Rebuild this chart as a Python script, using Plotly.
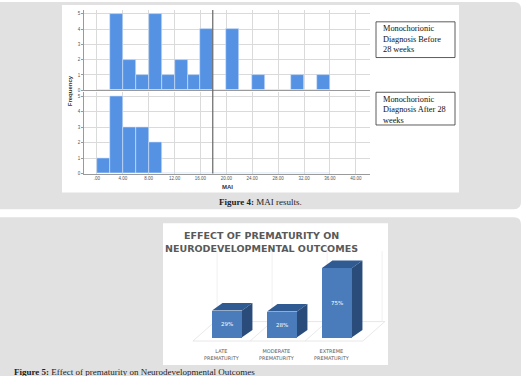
import plotly.graph_objects as go

W, H = 526, 376

def fx(p):
    return p / W

def fy(p):
    return 1 - p / H

# ---------------- data: Figure 4 (MAI histogram) ----------------
MAI_BIN_START = [0, 2, 4, 6, 8, 10, 12, 14, 16, 18, 20, 22, 24, 26, 28, 30, 32, 34]
COUNT_BEFORE_28 = [0, 5, 2, 1, 5, 1, 2, 1, 4, 0, 4, 0, 1, 0, 0, 1, 0, 1]
COUNT_AFTER_28 = [1, 5, 3, 3, 2, 0, 0, 0, 0, 0, 0, 0, 0, 0, 0, 0, 0, 0]
BIN_WIDTH = 2
MEAN_MAI = 17.9
X_TICK_VALUES = [0, 4, 8, 12, 16, 20, 24, 28, 32, 36, 40]
X_TICK_LABELS = [".00", "4.00", "8.00", "12.00", "16.00", "20.00", "24.00",
                 "28.00", "32.00", "36.00", "40.00"]
Y_TICK_VALUES = [0, 1, 2, 3, 4, 5]
PANEL_LABELS = [["Monochorionic", "Diagnosis Before", "28 weeks"],
                ["Monochorionic", "Diagnosis After 28", "weeks"]]

# ---------------- data: Figure 5 (prematurity) ----------------
PREM_CATEGORIES = ["LATE<br>PREMATURITY", "MODERATE<br>PREMATURITY", "EXTREME<br>PREMATURITY"]
PREM_VALUES = [29, 28, 75]
PREM_LABELS = ["29%", "28%", "75%"]

BLUE = "#5592e4"
GRID = "#dadada"
PANEL_GRAY = "#e1e1e1"

fig = go.Figure()

# histogram bars
fig.add_trace(go.Bar(x=MAI_BIN_START, y=COUNT_BEFORE_28, width=BIN_WIDTH, offset=0,
                     xaxis="x", yaxis="y",
                     marker=dict(color=BLUE, line=dict(color="#d6e4f8", width=0.6)),
                     showlegend=False, hoverinfo="skip"))
fig.add_trace(go.Bar(x=MAI_BIN_START, y=COUNT_AFTER_28, width=BIN_WIDTH, offset=0,
                     xaxis="x2", yaxis="y2",
                     marker=dict(color=BLUE, line=dict(color="#d6e4f8", width=0.6)),
                     showlegend=False, hoverinfo="skip"))

# prematurity bars (front faces)
BAR_W = 0.545
fig.add_trace(go.Bar(x=list(range(len(PREM_VALUES))), y=PREM_VALUES, width=BAR_W,
                     xaxis="x3", yaxis="y3", text=PREM_LABELS,
                     textposition="inside", insidetextanchor="middle", textangle=0,
                     textfont=dict(family="DejaVu Sans", size=5.5, color="white"),
                     marker=dict(color="#4a7cbb", line=dict(width=0)),
                     showlegend=False, hoverinfo="skip", cliponaxis=False))

shapes = []

def rounded(x0, y0, x1, y1, r):
    return (f"M {fx(x0)},{fy(y0)} L {fx(x1 - r)},{fy(y0)} "
            f"Q {fx(x1)},{fy(y0)} {fx(x1)},{fy(y0 + r)} "
            f"L {fx(x1)},{fy(y1 - r)} Q {fx(x1)},{fy(y1)} {fx(x1 - r)},{fy(y1)} "
            f"L {fx(x0)},{fy(y1)} Z")

# page panels
shapes.append(dict(type="path", xref="paper", yref="paper", path=rounded(-10, 2, 521, 211, 7),
                   fillcolor=PANEL_GRAY, line=dict(width=0), layer="below"))
shapes.append(dict(type="path", xref="paper", yref="paper", path=rounded(-10, 219, 521, 400, 7),
                   fillcolor=PANEL_GRAY, line=dict(width=0), layer="below"))
# white image areas
shapes.append(dict(type="rect", xref="paper", yref="paper", x0=fx(62), x1=fx(459), y0=fy(194), y1=fy(5),
                   fillcolor="white", line=dict(width=0), layer="below"))
shapes.append(dict(type="rect", xref="paper", yref="paper", x0=fx(163), x1=fx(388), y0=fy(368), y1=fy(225),
                   fillcolor="white", line=dict(width=0), layer="below"))

# mean reference line
shapes.append(dict(type="line", xref="x", yref="paper", x0=MEAN_MAI, x1=MEAN_MAI,
                   y0=fy(175), y1=fy(10), line=dict(color="#666666", width=1.2)))

# legend boxes
for (y0, y1) in [(22, 58), (93, 126)]:
    shapes.append(dict(type="rect", xref="paper", yref="paper", x0=fx(376), x1=fx(455),
                       y0=fy(y1), y1=fy(y0), fillcolor="white",
                       line=dict(color="#333333", width=0.8)))

# 3D floor and wall lines for Figure 5
FLOOR_LINE = dict(color="#e2e2e2", width=0.8)
fd_x, f_front, f_back = 0.4, -4, 17
fl, fr = -0.62, 2.47
shapes.append(dict(type="path", xref="x3", yref="y3", layer="below",
                   path=f"M {fl},{f_front} L {fr},{f_front} L {fr + fd_x},{f_back} L {fl + fd_x},{f_back} Z",
                   line=FLOOR_LINE, fillcolor="rgba(0,0,0,0)"))
for i in range(len(PREM_VALUES) - 1):
    sx = i + 0.42
    shapes.append(dict(type="line", xref="x3", yref="y3", layer="below",
                       x0=sx, y0=f_front, x1=sx + fd_x, y1=f_back, line=FLOOR_LINE))
for i in range(len(PREM_VALUES) + 1):
    wx = i - 0.18
    shapes.append(dict(type="line", xref="x3", yref="y3", layer="below",
                       x0=wx, y0=f_back, x1=wx, y1=93, line=dict(color="#ececec", width=0.8)))

# 3D faces computed from values
dx, dy = 0.19, 8
for i, v in enumerate(PREM_VALUES):
    x0, x1 = i - BAR_W / 2, i + BAR_W / 2
    shapes.append(dict(type="path", xref="x3", yref="y3",
                       path=f"M {x0},{v} L {x1},{v} L {x1 + dx},{v + dy} L {x0 + dx},{v + dy} Z",
                       fillcolor="#2f5b92", line=dict(width=0)))
    shapes.append(dict(type="path", xref="x3", yref="y3",
                       path=f"M {x1},0 L {x1 + dx},{dy} L {x1 + dx},{v + dy} L {x1},{v} Z",
                       fillcolor="#294c7b", line=dict(width=0)))

annotations = []

def ann(**kw):
    kw.setdefault("showarrow", False)
    kw.setdefault("xanchor", "center")
    kw.setdefault("yanchor", "middle")
    annotations.append(kw)

# legend box texts, one annotation per line
for lines, ytop in zip(PANEL_LABELS, [29, 100]):
    for k, line in enumerate(lines):
        ann(xref="paper", yref="paper", x=fx(381), y=fy(ytop + 10.5 * k), text=line, xanchor="left",
            font=dict(family="Liberation Serif", size=8.3, color="#111111"))
# axis titles
ann(xref="paper", yref="paper", x=fx(227), y=fy(189), text="<b>MAI</b>",
    font=dict(family="Liberation Sans", size=6, color="#333333"))
ann(xref="paper", yref="paper", x=fx(70), y=fy(92), text="<b>Frequency</b>", textangle=-90,
    font=dict(family="Liberation Sans", size=6, color="#333333"))
# captions
ann(xref="paper", yref="paper", x=fx(260), y=fy(204), text="<b>Figure 4:</b> MAI results.",
    font=dict(family="Liberation Serif", size=9, color="#222222"))
ann(xref="paper", yref="paper", x=fx(12), y=fy(368), xanchor="left", yanchor="top",
    text="<b>Figure 5:</b> Effect of prematurity on Neurodevelopmental Outcomes",
    font=dict(family="Liberation Serif", size=9, color="#222222"))
# Figure 5 title
for text, yc in [("EFFECT OF PREMATURITY ON", 237.5), ("NEURODEVELOPMENTAL OUTCOMES", 251)]:
    ann(xref="paper", yref="paper", x=fx(261), y=fy(yc), text=f"<b>{text}</b>",
        font=dict(family="DejaVu Sans", size=9.5, color="#595959"))
# Figure 5 category labels
for i, c in enumerate(PREM_CATEGORIES):
    ann(xref="x3", yref="paper", x=i - 0.09, y=fy(357), text=c,
        font=dict(family="DejaVu Sans", size=5, color="#595959"))

tickfont = dict(family="Liberation Sans", size=4.5, color="#555555")
common_x = dict(range=[-2, 42.2], tickvals=X_TICK_VALUES, showgrid=True, gridcolor=GRID,
                gridwidth=0.7, zeroline=False, showline=True, linecolor="#9a9a9a", linewidth=0.8,
                domain=[fx(84), fx(370)], ticks="")
common_y = dict(range=[0, 5.25], tickvals=Y_TICK_VALUES, showgrid=True, gridcolor=GRID,
                gridwidth=0.7, zeroline=False, showline=True, linecolor="#9a9a9a", linewidth=0.8,
                tickfont=tickfont, ticks="outside", ticklen=2, tickcolor="#9a9a9a")

fig.update_layout(
    width=W, height=H, margin=dict(l=0, r=0, t=0, b=0),
    paper_bgcolor="white", plot_bgcolor="rgba(0,0,0,0)",
    barmode="overlay", bargap=0,
    xaxis=dict(**common_x, anchor="y", showticklabels=False),
    yaxis=dict(**common_y, anchor="x", domain=[fy(91), fy(10)]),
    xaxis2=dict(**common_x, anchor="y2", matches="x", ticktext=X_TICK_LABELS, tickfont=tickfont),
    yaxis2=dict(**common_y, anchor="x2", domain=[fy(175), fy(93)]),
    xaxis3=dict(domain=[fx(172), fx(392)], range=[-1, 3], anchor="y3", visible=False),
    yaxis3=dict(domain=[fy(347.5), fy(246.7)], range=[-8, 100], anchor="x3", visible=False),
    shapes=shapes, annotations=annotations,
)

fig.write_html("out.html", config={"displayModeBar": False})
